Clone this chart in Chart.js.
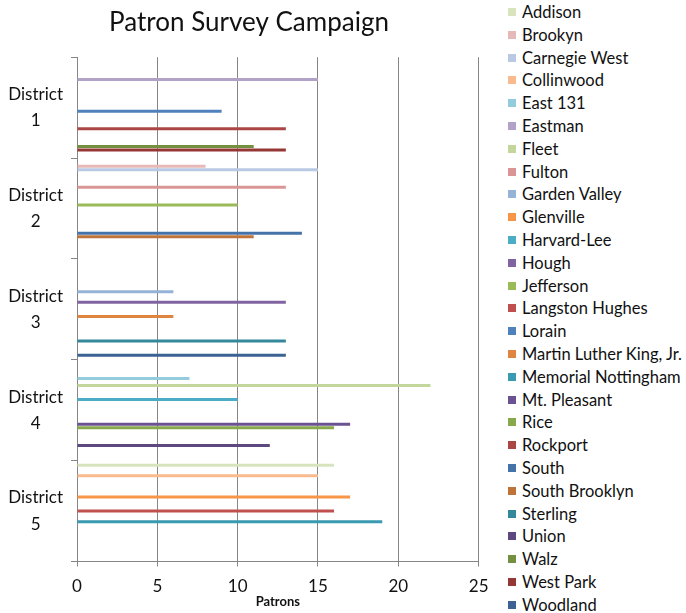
<!DOCTYPE html>
<html>
<head>
<meta charset="utf-8">
<script src="https://cdn.jsdelivr.net/npm/chart.js@4"></script>
<style>
    body { margin: 0; background: #fff; }
    #wrap { position: relative; width: 686px; height: 613px; overflow: hidden; }
    #chartBox { position: absolute; left: 0; top: 0; width: 500px; height: 613px; }
    #legend { position: absolute; left: 508px; top: 0.6px; font-family: Lato, sans-serif; font-size: 16.5px; color: #111; }
    .item { height: 22.8px; display: flex; align-items: center; white-space: nowrap; }
    .swatch { width: 8px; height: 8px; margin-right: 6px; flex: none; }
</style>
</head>
<body>
<div id="wrap">
    <div id="chartBox"><canvas id="surveyChart"></canvas></div>
    <div id="legend"></div>
</div>
<script>
// Districts (y categories) and x axis ticks
const districts = ['1', '2', '3', '4', '5'];
const xTicks = [0, 5, 10, 15, 20, 25];

// One series per library; each library only shows up in one district
const libraries = ['Addison', 'Brookyn', 'Carnegie West', 'Collinwood', 'East 131', 'Eastman', 'Fleet',
    'Fulton', 'Garden Valley', 'Glenville', 'Harvard-Lee', 'Hough', 'Jefferson', 'Langston Hughes',
    'Lorain', 'Martin Luther King, Jr.', 'Memorial Nottingham', 'Mt. Pleasant', 'Rice', 'Rockport',
    'South', 'South Brooklyn', 'Sterling', 'Union', 'Walz', 'West Park', 'Woodland'];
const libraryDistrict = [5, 2, 2, 5, 4, 1, 4, 2, 3, 5, 4, 3, 2, 5, 1, 3, 5, 4, 4, 1, 2, 2, 3, 4, 1, 1, 3];
const patrons = [16, 8, 15, 15, 7, 15, 22, 13, 6, 17, 10, 13, 10, 16, 9, 6, 19, 17, 16, 13, 14, 11, 13, 12, 11, 13, 13];

const colors = ['#D7E4BD', '#E6B9B8', '#B9C9E3', '#F9BA8E', '#93CDDD', '#B3A2C7', '#C3D69B',
    '#D99694', '#95B3D7', '#F79646', '#4BACC6', '#8064A2', '#9BBB59', '#C0504D',
    '#4F81BD', '#E0853F', '#3A9AB0', '#6B5292', '#87A94B', '#AA4744',
    '#4672AA', '#BF7339', '#35889C', '#5E4880', '#729040', '#953735', '#3C6293'];

const gridGray = '#868686';
const textColor = '#111';

const datasets = libraries.map((name, k) => ({
    label: name,
    data: districts.map((d, i) => libraryDistrict[k] === i + 1 ? patrons[k] : null),
    backgroundColor: colors[k],
    borderWidth: 0,
    categoryPercentage: 0.945,
    barPercentage: 0.85
}));

// the title sits a bit left of the plot centre, like the original sheet
const titleNudge = {
    id: 'titleNudge',
    afterLayout(chart) {
        if (chart.titleBlock) chart.titleBlock.left += 15;
    }
};

const chart = new Chart(document.getElementById('surveyChart'), {
    type: 'bar',
    data: {
        labels: districts.map(d => ['District', d]),
        datasets: datasets
    },
    plugins: [titleNudge],
    options: {
        indexAxis: 'y',
        responsive: true,
        maintainAspectRatio: false,
        animation: false,
        layout: { padding: { left: 0, right: 17, top: 0, bottom: 4.5 } },
        plugins: {
            legend: { display: false },
            tooltip: { enabled: false },
            title: {
                display: true,
                text: 'Patron Survey Campaign',
                color: textColor,
                font: { family: 'Lato', size: 26, weight: 'normal' },
                padding: { top: 7, bottom: 19 }
            }
        },
        scales: {
            x: {
                min: 0,
                max: 25,
                afterBuildTicks: axis => { axis.ticks = xTicks.map(v => ({ value: v })); },
                afterFit: axis => { axis.height = 47; },
                grid: { color: gridGray, tickLength: 5 },
                border: { color: gridGray },
                ticks: { color: textColor, padding: 11.5, font: { family: 'Lato', size: 17, lineHeight: 1 } },
                title: {
                    display: true,
                    text: 'Patrons',
                    color: textColor,
                    font: { family: 'Lato', size: 13, weight: 'bold', lineHeight: 1 },
                    padding: { top: 0, bottom: 0 }
                }
            },
            y: {
                offset: true,
                afterFit: axis => { axis.width = 77; },
                grid: { offset: true, drawOnChartArea: false, color: gridGray, tickLength: 6 },
                border: { color: gridGray },
                ticks: { color: textColor, crossAlign: 'center', padding: 8, font: { family: 'Lato', size: 17, lineHeight: 1.55 } }
            }
        }
    }
});

// Legend built from the datasets, one row per library
const legendBox = document.getElementById('legend');
chart.data.datasets.forEach(ds => {
    const row = document.createElement('div');
    row.className = 'item';
    row.innerHTML = `<span class="swatch" style="background:${ds.backgroundColor}"></span><span>${ds.label}</span>`;
    legendBox.appendChild(row);
});
</script>
</body>
</html>
